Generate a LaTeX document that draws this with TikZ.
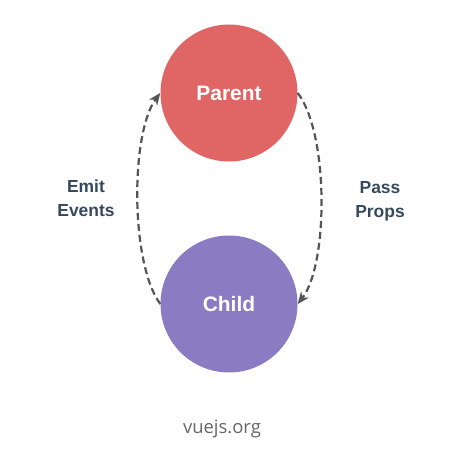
\documentclass[tikz,border=0pt]{standalone}
\usepackage{fontspec}
\setmainfont{Liberation Sans}
\newfontfamily\sitefont{Open Sans}
\usetikzlibrary{arrows.meta}
\definecolor{parentred}{HTML}{E06565}
\definecolor{childpurple}{HTML}{8A7BC2}
\definecolor{labelslate}{HTML}{35495E}
\definecolor{dashgray}{HTML}{555555}
\definecolor{sitegray}{HTML}{666666}
\begin{document}
\begin{tikzpicture}
           [x=1bp,y=1bp,
            comp/.style={circle,minimum size=137bp,inner sep=0pt,text=white,
              font=\fontsize{21}{25}\selectfont\bfseries},
            flow/.style={dashed,dash pattern=on 7bp off 4bp,line width=2.2bp,
              color=dashgray,-{Stealth[length=12bp,width=10bp]}},
            side/.style={align=center,text=labelslate,
              font=\fontsize{17.5}{24}\selectfont\bfseries}]
           \useasboundingbox (0,0) rectangle (449,466);

           \node[comp,fill=parentred] (parent) at (229,373) {Parent};
           \node[comp,fill=childpurple] (child) at (229,162) {Child};

           \node[side] (emit) at (86,268) {Emit\\Events};
           \node[side] (pass) at (380,265) {Pass\\Props};

           \draw[flow] (child.west) .. controls +(-30,40) and +(-30,-40) .. (parent.west);
           \draw[flow] (parent.east) .. controls +(31,-40) and +(31,40) .. (child.east);

           \node[text=sitegray,font=\sitefont\fontsize{18.5}{22}\selectfont] (site) at (222,37) {vuejs.org};
         \end{tikzpicture}
\end{document}
